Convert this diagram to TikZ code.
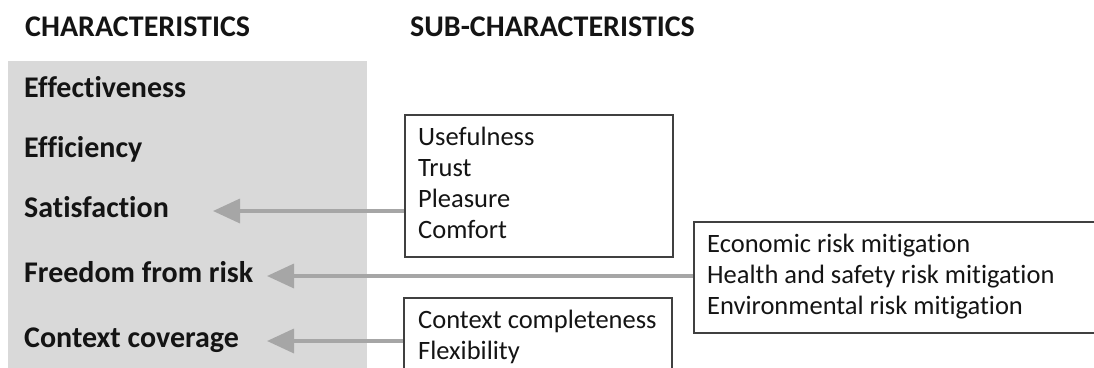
\documentclass[tikz,border=0pt]{standalone}
\usepackage{fontspec}
\setmainfont{Carlito}[Ligatures=NoCommon]
\usetikzlibrary{arrows.meta}
\definecolor{panelgray}{HTML}{D9D9D9}
\definecolor{arrowgray}{HTML}{A6A6A6}
\definecolor{boxline}{HTML}{404040}
\definecolor{txt}{HTML}{141414}
\tikzset{
  header/.style={anchor=base west, inner sep=0pt, font=\fontsize{30}{36}\selectfont\bfseries, text=txt},
  charlabel/.style={anchor=base west, inner sep=0pt, font=\fontsize{30}{36}\selectfont\bfseries, text=txt},
  subitem/.style={anchor=base west, inner sep=0pt, font=\fontsize{26.5}{32}\selectfont, text=txt},
  subbox/.style={draw=boxline, line width=1.6pt, fill=white, rectangle, inner sep=0pt, anchor=north west},
  arr/.style={draw=arrowgray, line width=3.5pt, -{Triangle[length=27pt,width=24pt]}},
}
\begin{document}
\begin{tikzpicture}[x=1pt,y=-1pt]
\useasboundingbox (0,0) rectangle (1094,367);
\clip (0,0) rectangle (1094,367);
% left panel
\fill[panelgray] (8,61) rectangle (367,380);
% headers
\node[header] (h1) at (25,36) {CHARACTERISTICS};
\node[header] (h2) at (410,36) {SUB-CHARACTERISTICS};
% characteristics
\node[charlabel] (eff) at (24,97) {Effectiveness};
\node[charlabel] (effi) at (24,157) {Efficiency};
\node[charlabel] (sat) at (24,217) {Satisfaction};
\node[charlabel] (free) at (24,282) {Freedom from risk};
\node[charlabel] (ctx) at (24,347) {Context coverage};
% boxes
\node[subbox, minimum width=268pt, minimum height=142pt] (b1) at (404,114) {};
\node[subbox, minimum width=520pt, minimum height=111pt] (b2) at (693,221) {};
\node[subbox, minimum width=268pt, minimum height=100pt] (b3) at (403,297) {};
% box texts
\node[subitem] (u1) at (418,145) {Usefulness};
\node[subitem] (u2) at (418,176) {Trust};
\node[subitem] (u3) at (418,207) {Pleasure};
\node[subitem] (u4) at (418,238) {Comfort};
\node[subitem] (r1) at (707,252) {Economic risk mitigation};
\node[subitem] (r2) at (707,283) {Health and safety risk mitigation};
\node[subitem] (r3) at (707,314) {Environmental risk mitigation};
\node[subitem] (c1) at (418,328) {Context completeness};
\node[subitem] (c2) at (418,359) {Flexibility};
% arrow tips
\coordinate (satTip) at (213,211);
\coordinate (freeTip) at (267,276);
\coordinate (ctxTip) at (267,341);
\draw[arr] (b1.west |- satTip) -- (satTip);
\draw[arr] (b2.west |- freeTip) -- (freeTip);
\draw[arr] (b3.west |- ctxTip) -- (ctxTip);
\end{tikzpicture}
\end{document}
